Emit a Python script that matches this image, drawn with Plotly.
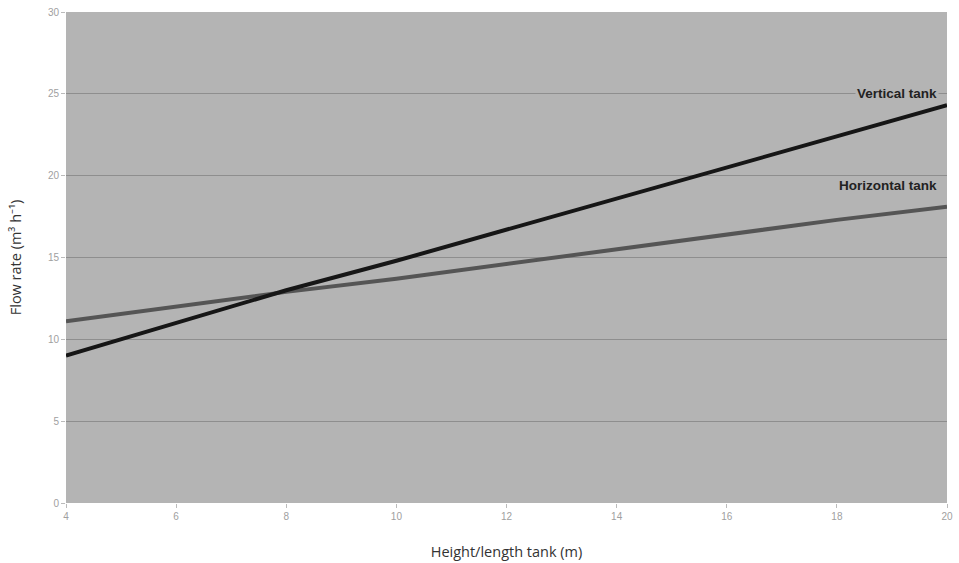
import plotly.graph_objects as go

# Tank height/length (m) and flow rate (m3/h)
height_m = [4, 6, 8, 10, 12, 14, 16, 18, 20]
vertical_flow = [9.0, 11.0, 13.0, 14.8, 16.7, 18.6, 20.5, 22.4, 24.3]
horizontal_flow = [11.1, 12.0, 12.9, 13.7, 14.6, 15.5, 16.4, 17.3, 18.1]

x_ticks = [4, 6, 8, 10, 12, 14, 16, 18, 20]
y_ticks = [0, 5, 10, 15, 20, 25, 30]

fig = go.Figure()
fig.add_trace(go.Scatter(x=height_m, y=horizontal_flow, mode="lines",
                         line=dict(color="#555555", width=4), name="Horizontal tank",
                         showlegend=False))
fig.add_trace(go.Scatter(x=height_m, y=vertical_flow, mode="lines",
                         line=dict(color="#161616", width=4), name="Vertical tank",
                         showlegend=False))

label_font = dict(family="Liberation Sans, Arial", size=13.5, color="#222222")
fig.add_annotation(x=19.85, y=25, text="<b>Vertical tank</b>", xanchor="right",
                   yanchor="middle", showarrow=False, font=label_font,
                   bgcolor="#b4b4b4")
fig.add_annotation(x=19.85, y=19.4, text="<b>Horizontal tank</b>", xanchor="right",
                   yanchor="middle", showarrow=False, font=label_font,
                   bgcolor="#b4b4b4")

tick_font = dict(family="Liberation Sans, Arial", size=10, color="#a0a0a0")
title_font = dict(family="Open Sans, Noto Sans", size=14.5, color="#333333")

fig.update_layout(
    width=959, height=563,
    margin=dict(l=66, r=6, t=9, b=53),
    paper_bgcolor="white",
    plot_bgcolor="#b4b4b4",
    xaxis=dict(range=[4, 20], tickvals=x_ticks, showgrid=False, zeroline=False,
               ticks="outside", ticklen=4, tickcolor="#bbbbbb",
               tickfont=tick_font, showline=False,
               title=dict(text="Height/length tank (m)", font=title_font, standoff=25)),
    yaxis=dict(range=[0, 30], tickvals=y_ticks, showgrid=True, gridcolor="#8e8e8e",
               gridwidth=1, zeroline=False, ticks="outside", ticklen=4,
               tickcolor="#bbbbbb", tickfont=tick_font, showline=False,
               title=dict(text="Flow rate (m³ h⁻¹)", font=title_font, standoff=22)),
)

fig.write_html("out.html")
